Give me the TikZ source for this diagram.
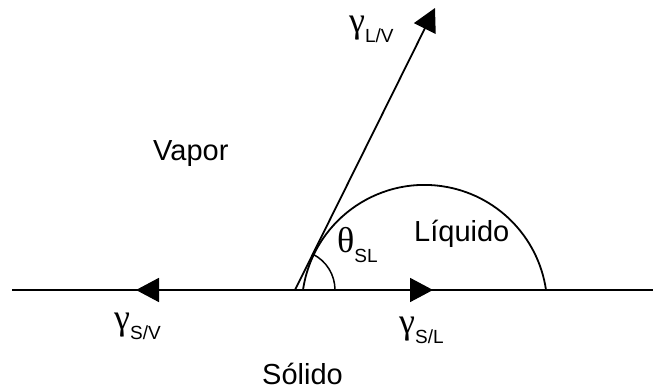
\documentclass[tikz,border=0pt]{standalone}
\usepackage{fontspec}
\setmainfont{Liberation Sans}
\newfontfamily\grk{Liberation Serif}
\usetikzlibrary{arrows.meta}
\newcommand\mysub[1]{\raisebox{-10pt}{\fontsize{19}{19}\selectfont #1}}
\newcommand\gk[1]{{\grk\fontsize{36}{36}\selectfont #1}}
\tikzset{
  line/.style={line width=1.8pt},
  force/.style={line width=1.8pt,-{Triangle[length=23pt,width=24pt]}},
  lbl/.style={anchor=base west,inner sep=0pt,font=\fontsize{29}{29}\selectfont},
}
\begin{document}
\begin{tikzpicture}[x=1pt,y=1pt]
\useasboundingbox (0,0) rectangle (654,390);
\coordinate (L) at (12,100);
\coordinate (R) at (653,100);
\coordinate (O) at (295,100);
\coordinate (tSV) at (136,100);
\coordinate (tSL) at (433,100);
\coordinate (tLV) at (435,382);
\coordinate (dropL) at (303,100);
\coordinate (thetaEnd) at (335,100);
\draw[line] (L) -- (R);
\draw[force] (O) -- (tSV);
\draw[force] (O) -- (tSL);
\draw[force] (O) -- (tLV);
\draw[line] (dropL) arc[start angle=171.7,end angle=8.3,radius=122.8];
\draw[line width=1.5pt] (thetaEnd) arc[start angle=0,end angle=63.6,radius=40];
\node[lbl] (vapor) at (153,229) {Vapor};
\node[lbl] (liq) at (414,148) {Líquido};
\node[lbl] (sol) at (262,5) {Sólido};
\node[lbl] (theta) at (337,137) {\gk{θ}\mysub{SL}};
\node[lbl] (gLV) at (349,357) {\gk{γ}\mysub{L/V}};
\node[lbl] (gSV) at (114,60) {\gk{γ}\mysub{S/V}};
\node[lbl] (gSL) at (399,56) {\gk{γ}\mysub{S/L}};
\end{tikzpicture}
\end{document}
